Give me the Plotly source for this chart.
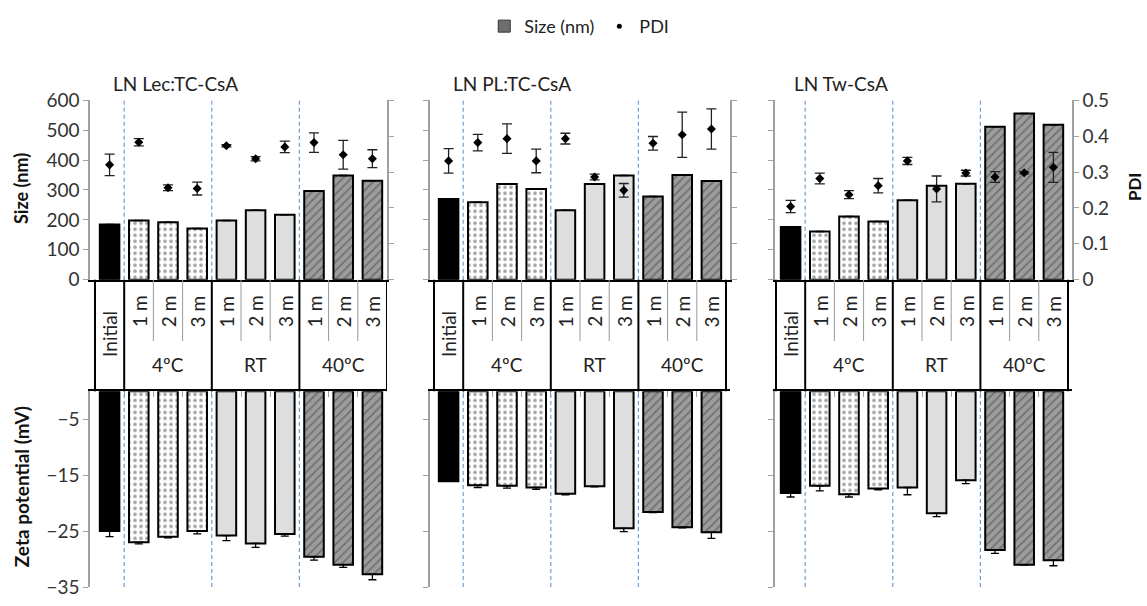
import plotly.graph_objects as go

# ---------------- data ----------------
categories = ["Initial", "1 m", "2 m", "3 m", "1 m", "2 m", "3 m", "1 m", "2 m", "3 m"]
groups = ["4ºC", "RT", "40ºC"]
group_centers = [2, 5, 8]
panel_titles = ["LN Lec:TC-CsA", "LN PL:TC-CsA", "LN Tw-CsA"]

size_lec = [185, 198, 192, 171, 198, 232, 217, 297, 348, 331]
size_lec_err = [3, 0, 3, 0, 0, 3, 0, 10, 2, 2]
size_pl = [270, 259, 320, 303, 232, 320, 348, 278, 350, 330]
size_pl_err = [8, 0, 0, 0, 0, 5, 0, 0, 2, 1]
size_tw = [176, 161, 211, 195, 266, 314, 321, 511, 556, 518]
size_tw_err = [2, 0, 0, 0, 0, 0, 0, 0, 2, 0]

pdi_lec = [0.320, 0.383, 0.256, 0.254, 0.373, 0.337, 0.370, 0.382, 0.348, 0.337]
pdi_lec_err = [0.030, 0.010, 0.008, 0.018, 0.003, 0.006, 0.016, 0.027, 0.040, 0.025]
pdi_pl = [0.331, 0.382, 0.393, 0.331, 0.393, 0.286, 0.249, 0.380, 0.404, 0.420]
pdi_pl_err = [0.034, 0.023, 0.041, 0.033, 0.015, 0.008, 0.019, 0.019, 0.063, 0.056]
pdi_tw = [0.204, 0.282, 0.237, 0.262, 0.331, 0.253, 0.297, 0.286, 0.298, 0.313]
pdi_tw_err = [0.017, 0.015, 0.011, 0.020, 0.010, 0.036, 0.008, 0.015, 0.003, 0.042]

zeta_lec = [-25.0, -27.0, -26.0, -25.0, -25.8, -27.2, -25.5, -29.6, -31.0, -32.7]
zeta_lec_err = [1.0, 0.3, 0.2, 0.5, 0.9, 0.7, 0.4, 0.6, 0.5, 1.0]
zeta_pl = [-16.1, -16.8, -16.9, -17.2, -18.3, -17.0, -24.5, -21.6, -24.3, -25.2]
zeta_pl_err = [0.0, 0.4, 0.4, 0.35, 0.2, 0.1, 0.6, 0.1, 0.1, 1.1]
zeta_tw = [-18.2, -16.9, -18.4, -17.4, -17.2, -21.8, -15.9, -28.4, -31.0, -30.2]
zeta_tw_err = [0.7, 0.9, 0.5, 0.2, 1.3, 0.6, 0.6, 0.6, 0.1, 1.0]

sizes = [size_lec, size_pl, size_tw]
sizes_err = [size_lec_err, size_pl_err, size_tw_err]
pdis = [pdi_lec, pdi_pl, pdi_tw]
pdis_err = [pdi_lec_err, pdi_pl_err, pdi_tw_err]
zetas = [zeta_lec, zeta_pl, zeta_tw]
zetas_err = [zeta_lec_err, zeta_pl_err, zeta_tw_err]

# ---------------- styles ----------------
W, H = 1147, 606
FONT = "Lato"
bar_colors = ["#000000"] + ["#ffffff"] * 3 + ["#dedede"] * 3 + ["#9c9c9c"] * 3
pat_shapes = ["", ".", ".", ".", "", "", "", "/", "/", "/"]
pat_fg = ["#000000"] + ["#222222"] * 3 + ["#ffffff"] * 3 + ["#dcdcdc"] * 3
AXGREY = "#a0a0a0"
TXT = "#333333"
BLUE = "#6f9fd0"
TICK_SIZE = 19
LABEL_SIZE = 19

def fx(px):
    return px / W

def fy(py):
    return 1 - py / H

# panel geometry (pixels)
x_dom_px = [(90, 387), (430, 730), (775, 1072)]
x_ranges = [[-0.671, 9.5], [-0.637, 9.637], [-0.534, 9.637]]
top_dom = [fy(278.3), fy(91.7)]
bot_dom = [fy(597.7), fy(394.3)]
table_top = fy(278.3)
table_bot = fy(394.3)
table_inner_end = fy(342)

fig = go.Figure()
xs = list(range(len(categories)))

for i in range(3):
    xt = "x" if i == 0 else f"x{i+1}"
    yt = "y" if i == 0 else f"y{i+1}"
    yp = f"y{i+4}"
    xb = f"x{i+4}"
    yb = f"y{i+7}"

    fig.add_trace(go.Bar(
        x=xs, y=sizes[i], xaxis=xt, yaxis=yt, width=0.67, showlegend=False,
        marker=dict(color=bar_colors, line=dict(color="#000000", width=2),
                    pattern=dict(shape=pat_shapes, fgcolor=pat_fg, size=6,
                                 solidity=0.3, fillmode="overlay")),
        error_y=dict(type="data", symmetric=False, array=sizes_err,
                     arrayminus=[0] * 10, color="#000000", thickness=1.5, width=4),
    ))
    fig.add_trace(go.Scatter(
        x=xs, y=pdis[i], xaxis=xt, yaxis=yp, mode="markers", showlegend=False,
        marker=dict(symbol="diamond", size=7, color="#000000"),
        error_y=dict(type="data", array=pdis_err[i], color="#222222",
                     thickness=1.3, width=5),
    ))
    fig.add_trace(go.Bar(
        x=xs, y=zetas[i], xaxis=xb, yaxis=yb, width=0.67, showlegend=False,
        marker=dict(color=bar_colors, line=dict(color="#000000", width=2),
                    pattern=dict(shape=pat_shapes, fgcolor=pat_fg, size=6,
                                 solidity=0.3, fillmode="overlay")),
        error_y=dict(type="data", symmetric=False, array=[0] * 10,
                     arrayminus=zetas_err[i], color="#000000", thickness=1.3, width=4),
    ))

    dom = [fx(x_dom_px[i][0]), fx(x_dom_px[i][1])]
    xk = "xaxis" if i == 0 else f"xaxis{i+1}"
    yk = "yaxis" if i == 0 else f"yaxis{i+1}"
    fig.layout[xk] = dict(domain=dom, range=x_ranges[i], anchor=yt,
                          showticklabels=False, ticks="", showgrid=False,
                          zeroline=False, showline=True, linecolor="#000000",
                          linewidth=2)
    fig.layout[yk] = dict(domain=top_dom, range=[0, 600], dtick=100, anchor=xt,
                          ticks="outside", ticklen=5, tickcolor=AXGREY,
                          showline=True, linecolor=AXGREY, linewidth=1.5,
                          showgrid=False, zeroline=False,
                          showticklabels=(i == 0),
                          tickfont=dict(size=TICK_SIZE, color=TXT, family=FONT))
    fig.layout[f"yaxis{i+4}"] = dict(range=[0, 0.5], dtick=0.1, overlaying=yt,
                                     anchor=xt, side="right", ticks="outside",
                                     ticklen=5, tickcolor=AXGREY, showline=True,
                                     linecolor=AXGREY, linewidth=1.5,
                                     showgrid=False, zeroline=False,
                                     showticklabels=(i == 2),
                                     tickfont=dict(size=TICK_SIZE, color=TXT, family=FONT))
    fig.layout[f"xaxis{i+4}"] = dict(domain=dom, range=x_ranges[i], anchor=yb,
                                     side="top", showticklabels=False,
                                     tickvals=[0.5 + k for k in range(9)],
                                     ticks="inside", ticklen=6, tickcolor=AXGREY,
                                     showgrid=False, zeroline=False, showline=True,
                                     linecolor="#000000", linewidth=2)
    fig.layout[f"yaxis{i+7}"] = dict(domain=bot_dom, range=[-35, 0], tick0=-35,
                                     dtick=10, anchor=xb, ticks="outside",
                                     ticklen=5, tickcolor=AXGREY, showline=True,
                                     linecolor=AXGREY, linewidth=1.5,
                                     showgrid=False, zeroline=False,
                                     showticklabels=(i == 0),
                                     tickfont=dict(size=TICK_SIZE, color=TXT, family=FONT))

    # dashed separators between groups
    for sx in [0.5, 3.5, 6.5]:
        fig.add_shape(type="line", xref=xt, yref=f"{yt} domain", x0=sx, x1=sx,
                      y0=0, y1=1, line=dict(color=BLUE, width=1.2, dash="4px,3px"))
        fig.add_shape(type="line", xref=xb, yref=f"{yb} domain", x0=sx, x1=sx,
                      y0=0, y1=1, line=dict(color=BLUE, width=1.2, dash="4px,3px"))
    # category table lines
    for sx in [-0.5, 0.5, 3.5, 6.5, 9.5]:
        fig.add_shape(type="line", xref=xt, yref="paper", x0=sx, x1=sx,
                      y0=table_bot, y1=table_top, line=dict(color="#000000", width=2))
    for sx in [1.5, 2.5, 4.5, 5.5, 7.5, 8.5]:
        fig.add_shape(type="line", xref=xt, yref="paper", x0=sx, x1=sx,
                      y0=table_inner_end, y1=table_top, line=dict(color="#9a9a9a", width=1))
    # category labels
    for k, lab in enumerate(categories):
        fig.add_annotation(xref=xt, yref="paper", x=k,
                           y=fy(335) if k == 0 else fy(311), text=lab,
                           textangle=-90, showarrow=False,
                           xanchor="center", yanchor="middle",
                           font=dict(size=LABEL_SIZE, color="#222222", family=FONT))
    for gc, g in zip(group_centers, groups):
        fig.add_annotation(xref=xt, yref="paper", x=gc, y=fy(366), text=g,
                           showarrow=False, xanchor="center", yanchor="middle",
                           font=dict(size=LABEL_SIZE, color="#222222", family=FONT))

# panel titles
title_px = [111, 451, 792]
for tx, t in zip(title_px, panel_titles):
    fig.add_annotation(xref="paper", yref="paper", x=fx(tx), y=fy(74), text=t,
                       xanchor="left", yanchor="middle", showarrow=False,
                       font=dict(size=19, color="#222222", family=FONT))

# axis titles
fig.add_annotation(xref="paper", yref="paper", x=fx(21), y=fy(184),
                   text="<b>Size (nm)</b>", textangle=-90, showarrow=False,
                   xanchor="center", yanchor="middle",
                   font=dict(size=18, color="#111111", family=FONT))
fig.add_annotation(xref="paper", yref="paper", x=fx(1134), y=fy(182),
                   text="<b>PDI</b>", textangle=-90, showarrow=False,
                   xanchor="center", yanchor="middle",
                   font=dict(size=17, color="#111111", family=FONT))
fig.add_annotation(xref="paper", yref="paper", x=fx(21), y=fy(494),
                   text="<b>Zeta potential (mV)</b>", textangle=-90, showarrow=False,
                   xanchor="center", yanchor="middle",
                   font=dict(size=19, color="#111111", family=FONT))

# legend entries
fig.add_trace(go.Bar(x=[None], y=[None], name="Size (nm)",
                     marker=dict(color="#6e6e6e", line=dict(color="#333333", width=1))))
fig.add_trace(go.Scatter(x=[None], y=[None], name="PDI", mode="markers",
                         marker=dict(symbol="circle", size=5, color="#000000")))

fig.update_layout(
    width=W, height=H, margin=dict(l=0, r=0, t=0, b=0),
    paper_bgcolor="#ffffff", plot_bgcolor="rgba(0,0,0,0)",
    font=dict(family=FONT, color=TXT),
    barmode="overlay",
    legend=dict(orientation="h", x=0.505, xanchor="center", y=fy(15),
                yanchor="middle", font=dict(size=18, color="#222222", family=FONT),
                itemwidth=30, bgcolor="rgba(0,0,0,0)"),
)

fig.write_html("out.html")
